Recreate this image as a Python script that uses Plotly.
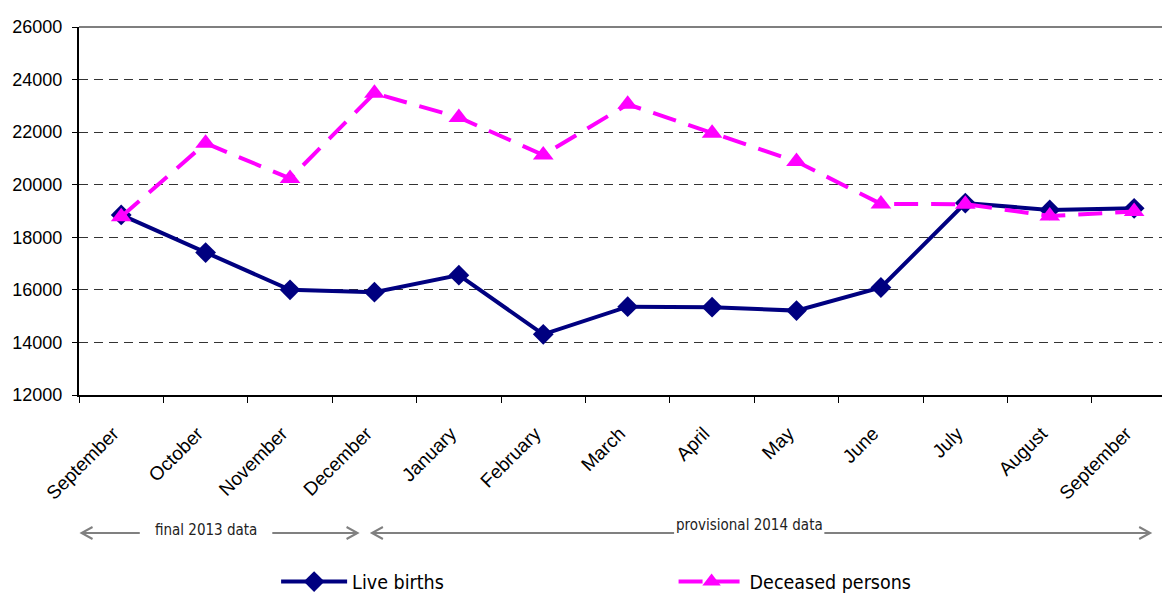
import plotly.graph_objects as go

months = ["September", "October", "November", "December", "January", "February",
          "March", "April", "May", "June", "July", "August", "September"]
live_births = [18850, 17420, 16000, 15910, 16560, 14310, 15360, 15340, 15210, 16090, 19300, 19040, 19100]
deceased = [18780, 21580, 20240, 23480, 22560, 21130, 23060, 21960, 20880, 19270, 19260, 18810, 18980]
y_ticks = [12000, 14000, 16000, 18000, 20000, 22000, 24000, 26000]
period_labels = ["final 2013 data", "provisional 2014 data"]

x = list(range(len(months)))

fig = go.Figure()
fig.add_trace(go.Scatter(
    x=x, y=live_births, name="Live births", mode="lines+markers",
    line=dict(color="#000080", width=4),
    marker=dict(symbol="diamond", size=16, color="#000080"),
    legend="legend"))
fig.add_trace(go.Scatter(
    x=x, y=deceased, name="Deceased persons", mode="lines+markers",
    line=dict(color="#FF00FF", width=4, dash="24px,13px"),
    marker=dict(symbol="triangle-up", size=18, color="#FF00FF"),
    legend="legend2"))

AX_FONT = dict(family="Liberation Sans, Arial, sans-serif", size=18, color="black")
XT_FONT = dict(family="Liberation Sans, Arial, sans-serif", size=19, color="black")
NARROW = "Liberation Sans Narrow, Arial Narrow, DejaVu Sans Condensed, Liberation Sans, sans-serif"

fig.update_layout(
    width=1162, height=596,
    margin=dict(l=79, r=0, t=27, b=201, autoexpand=False),
    plot_bgcolor="white", paper_bgcolor="white",
    xaxis=dict(
        range=[-0.5, 12.33], tickmode="array", tickvals=x, ticktext=months,
        tickangle=-45, ticks="", tickfont=XT_FONT, showgrid=False, zeroline=False,
        automargin=False, ticklabelstandoff=18, ticklabelshift=-8,
        showline=True, linecolor="black", linewidth=2,
        minor=dict(tickvals=[i - 0.5 for i in range(len(months) + 1)],
                   ticks="outside", ticklen=6, tickcolor="black", tickwidth=1, showgrid=False),
    ),
    yaxis=dict(
        range=[12000, 26000], tickmode="array", tickvals=y_ticks,
        ticktext=[str(v) for v in y_ticks],
        ticks="outside", ticklen=5, tickcolor="black", tickfont=AX_FONT,
        automargin=False, ticklabelstandoff=6,
        showgrid=True, gridcolor="#333333", griddash="9px,6px", gridwidth=1,
        zeroline=False, showline=True, linecolor="black", linewidth=2,
    ),
    showlegend=True,
    legend=dict(x=0.182, y=-0.508, xanchor="left", yanchor="middle",
                orientation="h", itemwidth=66, font=dict(family=NARROW, size=19.5, color="black"),
                bgcolor="rgba(0,0,0,0)"),
    legend2=dict(x=0.549, y=-0.508, xanchor="left", yanchor="middle",
                 orientation="h", itemwidth=66, font=dict(family=NARROW, size=19.5, color="black"),
                 bgcolor="rgba(0,0,0,0)"),
)

# top border
fig.add_shape(type="line", xref="paper", yref="paper", x0=0, x1=1, y0=1, y1=1,
              line=dict(color="#555555", width=1.5))

# period arrows (outside plot area)
ya = -0.375
gray = "#808080"
segments = [(-0.47, 0.22), (1.79, 2.8), (2.97, 6.55), (8.33, 12.19)]
for a, b in segments:
    fig.add_shape(type="line", xref="x", yref="paper", x0=a, x1=b, y0=ya, y1=ya,
                  line=dict(color=gray, width=2))
for tip, direction in [(-0.47, -1), (2.8, 1), (2.97, -1), (12.19, 1)]:
    d = -direction
    fig.add_shape(type="path", xref="x", yref="paper", xsizemode="pixel", ysizemode="pixel",
                  xanchor=tip, yanchor=ya,
                  path=f"M {d*11},6 L 0,0 L {d*11},-6",
                  line=dict(color=gray, width=2))

fig.add_annotation(x=1.01, y=ya, xref="x", yref="paper", text=period_labels[0],
                   showarrow=False, yanchor="middle", yshift=3,
                   font=dict(family=NARROW, size=15, color="#222222"))
fig.add_annotation(x=7.44, y=ya, xref="x", yref="paper", text=period_labels[1],
                   showarrow=False, yanchor="middle", yshift=8,
                   font=dict(family=NARROW, size=15, color="#222222"))

fig.write_html("out.html", config={"displayModeBar": False},
               post_script="document.body.style.margin='0';")
